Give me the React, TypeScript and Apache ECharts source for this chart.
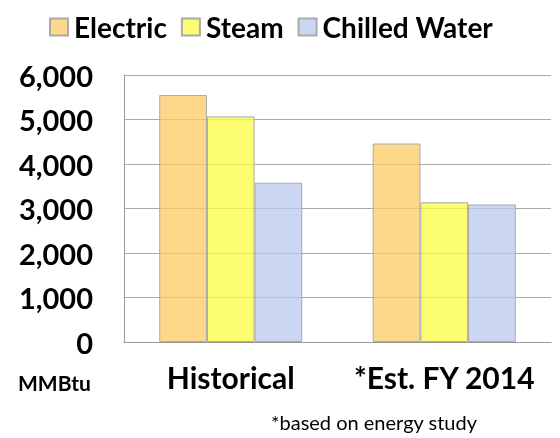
import React, { useEffect, useRef } from "react";
import * as echarts from "echarts";

const categories = ["Historical", "*Est. FY 2014"];
const seriesNames = ["Electric", "Steam", "Chilled Water"];
const electric = [5550, 4460];
const steam = [5070, 3140];
const chilledWater = [3580, 3090];
const yTicks = [0, 1000, 2000, 3000, 4000, 5000, 6000];
const unitLabel = "MMBtu";
const footnote = "*based on energy study";

const colors = ["rgba(252,202,99,0.75)", "rgba(252,252,67,0.75)", "rgba(186,200,238,0.75)"];

export default function App() {
  const ref = useRef<HTMLDivElement>(null);
  useEffect(() => {
    if (!ref.current) return;
    const chart = echarts.init(ref.current, undefined, { renderer: "svg" });
    const font = "Lato";
    const values = [electric, steam, chilledWater];
    chart.setOption({
      animation: false,
      textStyle: { fontFamily: font },
      legend: {
        top: 8,
        left: 44,
        itemWidth: 18,
        itemHeight: 17,
        itemGap: 14,
        icon: "rect",
        textStyle: { fontFamily: font, fontWeight: "bold", fontSize: 28, color: "#000", padding: [0, 0, 0, 1] },
        data: seriesNames,
      },
      grid: { left: 124, right: 9, top: 75, bottom: 96, containLabel: false },
      xAxis: {
        type: "category",
        data: categories,
        axisLine: { show: true, lineStyle: { color: "#999", width: 1 } },
        axisTick: { show: false },
        axisLabel: { interval: 0, fontFamily: font, fontWeight: "bold", fontSize: 30, color: "#000", margin: 20 },
      },
      yAxis: {
        type: "value",
        min: yTicks[0],
        max: yTicks[yTicks.length - 1],
        interval: 1000,
        axisLine: { show: true, lineStyle: { color: "#999", width: 1 } },
        axisTick: { show: false },
        splitLine: { show: true, lineStyle: { color: "#aaa", width: 1 } },
        axisLabel: {
          fontFamily: font,
          fontWeight: "bold",
          fontSize: 29,
          color: "#000",
          margin: 31,
          formatter: (v: number) => v.toLocaleString("en-US"),
        },
      },
      series: seriesNames.map((name, i) => ({
        name,
        type: "bar",
        data: values[i],
        barGap: "0%",
        barCategoryGap: "33%",
        itemStyle: { color: colors[i], borderColor: "#aaa", borderWidth: 1 },
      })),
      graphic: [
        {
          type: "text",
          left: 18,
          top: 372,
          style: { text: unitLabel, fontFamily: font, fontWeight: "bold", fontSize: 21, fill: "#000" },
        },
        {
          type: "text",
          left: 271,
          top: 412,
          style: { text: footnote, fontFamily: font, fontWeight: "normal", fontSize: 20, fill: "#000" },
        },
      ],
    });
    return () => chart.dispose();
  }, []);
  return <div ref={ref} style={{ position: "fixed", left: 0, top: 0, width: 560, height: 438 }} />;
}
